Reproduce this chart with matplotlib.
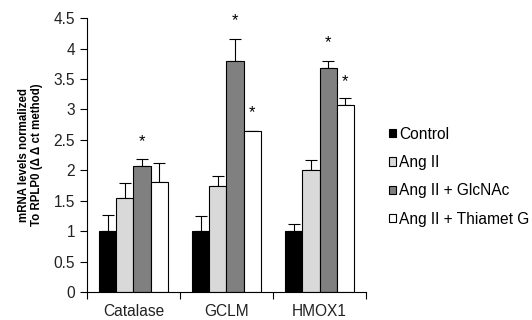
import numpy as np
import matplotlib
matplotlib.use('Agg')
import matplotlib.pyplot as plt

plt.rcParams['font.family'] = ['Liberation Sans', 'DejaVu Sans']

genes = ["Catalase", "GCLM", "HMOX1"]
groups = ["Control", "Ang II", "Ang II + GlcNAc", "Ang II + Thiamet G"]
colors = ["#000000", "#d9d9d9", "#808080", "#ffffff"]

# means and upper error bar tips per group (rows) and gene (columns)
means = [
    [1.0, 1.0, 1.0],
    [1.55, 1.75, 2.0],
    [2.07, 3.79, 3.68],
    [1.80, 2.64, 3.08],
]
err_tops = [
    [1.27, 1.245, 1.12],
    [1.79, 1.90, 2.17],
    [2.18, 4.16, 3.80],
    [2.12, 2.64, 3.19],
]
# significance stars: (gene index, group index, y)
stars = [(0, 2, 2.47), (1, 2, 4.46), (1, 3, 2.95), (2, 2, 4.10), (2, 3, 3.46)]

fig = plt.figure(figsize=(5.32, 3.2), dpi=100)
ax = fig.add_axes([0.1635, 0.0875, 0.5245, 0.8555])

x = np.arange(len(genes))
w = 0.183
offsets = (np.arange(len(groups)) - 1.5) * w

for i, g in enumerate(groups):
    m = np.array(means[i])
    e = np.array(err_tops[i]) - m
    ax.bar(x + offsets[i], m, w, color=colors[i], edgecolor="black", linewidth=0.8, label=g, zorder=2)
    ax.errorbar(x + offsets[i], m, yerr=[np.zeros_like(e), e], fmt="none", ecolor="black",
                elinewidth=0.8, capsize=4, capthick=0.8, zorder=1)

for gi, gr, y in stars:
    ax.text(x[gi] + offsets[gr], y, "*", ha="center", va="center", fontsize=12)

ax.set_xlim(-0.5, 2.5)
ax.set_ylim(0, 4.5)
ax.set_yticks(np.arange(0, 4.51, 0.5))
ax.set_yticklabels(["0", "0.5", "1", "1.5", "2", "2.5", "3", "3.5", "4", "4.5"])
ax.set_xticks(x)
ax.set_xticklabels(genes)
ax.set_xticks([-0.5, 0.5, 1.5, 2.5], minor=True)
ax.tick_params(axis="x", which="major", length=0, pad=9, labelsize=11.2, labelcolor="#222222")
ax.tick_params(axis="x", which="minor", length=5, direction="out", width=0.8)
ax.tick_params(axis="y", length=5, direction="out", width=0.8, labelsize=11.2, labelcolor="#222222")
ax.spines["top"].set_visible(False)
ax.spines["right"].set_visible(False)
ax.spines["left"].set_linewidth(0.8)
ax.spines["bottom"].set_linewidth(0.8)

ax.set_ylabel("mRNA levels normalized\nTo RPLP0 (\u0394 \u0394 ct method)", fontsize=8.3,
              fontweight="bold", labelpad=8, linespacing=1.1)

leg = ax.legend(loc="center left", bbox_to_anchor=(1.032, 0.421), frameon=False, fontsize=11.2,
                handlelength=0.45, handleheight=0.45, handletextpad=0.2, labelspacing=0.86)

fig.savefig("out.png", dpi=100)
